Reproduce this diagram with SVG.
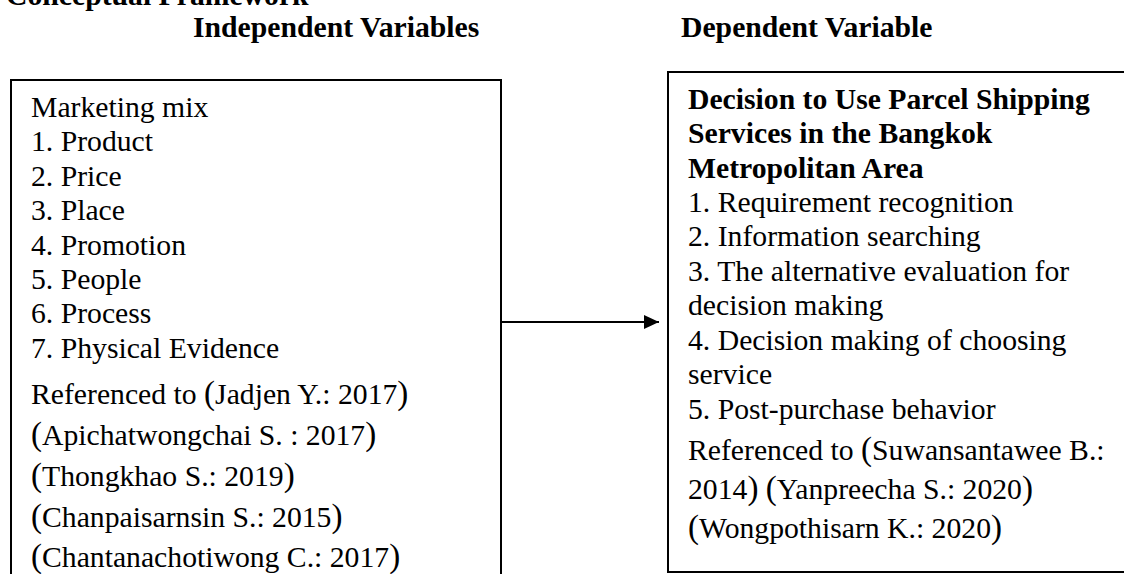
<svg xmlns="http://www.w3.org/2000/svg" width="1124" height="574" viewBox="0 0 1124 574">
<defs>
<style>
text{font-family:"Liberation Serif","Times New Roman",serif;font-size:29.7px;fill:#000}
.b{font-weight:bold}
.p{font-size:33px}
.box{fill:#fff;stroke:#000;stroke-width:2}
.conn{stroke:#000;stroke-width:2;fill:none}
</style>
<marker id="ah" markerUnits="userSpaceOnUse" markerWidth="16" markerHeight="16" refX="15" refY="7" orient="auto">
<path d="M0,0 L15,7 L0,14 Z" fill="#000"/>
</marker>
</defs>
<rect width="1124" height="574" fill="#fff"/>
<g id="titles">
<text class="b" x="6" y="5">Conceptual Framework</text>
<text class="b" x="193" y="37">Independent Variables</text>
<text class="b" x="681" y="37">Dependent Variable</text>
</g>
<g id="independent">
<rect class="box" x="11" y="80" width="490" height="510"/>
<text x="31" y="117">Marketing mix</text>
<text x="31" y="151.4">1. Product</text>
<text x="31" y="185.8">2. Price</text>
<text x="31" y="220.2">3. Place</text>
<text x="31" y="254.6">4. Promotion</text>
<text x="31" y="289">5. People</text>
<text x="31" y="323.4">6. Process</text>
<text x="31" y="357.8">7. Physical Evidence</text>
<text x="31" y="404">Referenced to <tspan class="p">(</tspan>Jadjen Y.: 2017<tspan class="p">)</tspan></text>
<text x="31" y="445"><tspan class="p">(</tspan>Apichatwongchai S. : 2017<tspan class="p">)</tspan></text>
<text x="31" y="486"><tspan class="p">(</tspan>Thongkhao S.: 2019<tspan class="p">)</tspan></text>
<text x="31" y="527"><tspan class="p">(</tspan>Chanpaisarnsin S.: 2015<tspan class="p">)</tspan></text>
<text x="31" y="567"><tspan class="p">(</tspan>Chantanachotiwong C.: 2017<tspan class="p">)</tspan></text>
</g>
<g id="dependent">
<rect class="box" x="668" y="72" width="470" height="500"/>
<text class="b" x="688" y="109">Decision to Use Parcel Shipping</text>
<text class="b" x="688" y="143.4">Services in the Bangkok</text>
<text class="b" x="688" y="177.8">Metropolitan Area</text>
<text x="688" y="212">1. Requirement recognition</text>
<text x="688" y="246.4">2. Information searching</text>
<text x="688" y="280.8">3. The alternative evaluation for</text>
<text x="688" y="315.2">decision making</text>
<text x="688" y="349.6">4. Decision making of choosing</text>
<text x="688" y="384">service</text>
<text x="688" y="418.6">5. Post-purchase behavior</text>
<text x="688" y="460">Referenced to <tspan class="p">(</tspan>Suwansantawee B.:</text>
<text x="688" y="499">2014<tspan class="p">)</tspan> <tspan class="p">(</tspan>Yanpreecha S.: 2020<tspan class="p">)</tspan></text>
<text x="688" y="538"><tspan class="p">(</tspan>Wongpothisarn K.: 2020<tspan class="p">)</tspan></text>
</g>
<g id="connectors">
<line class="conn" x1="501" y1="322" x2="659" y2="322" marker-end="url(#ah)"/>
</g>
</svg>
